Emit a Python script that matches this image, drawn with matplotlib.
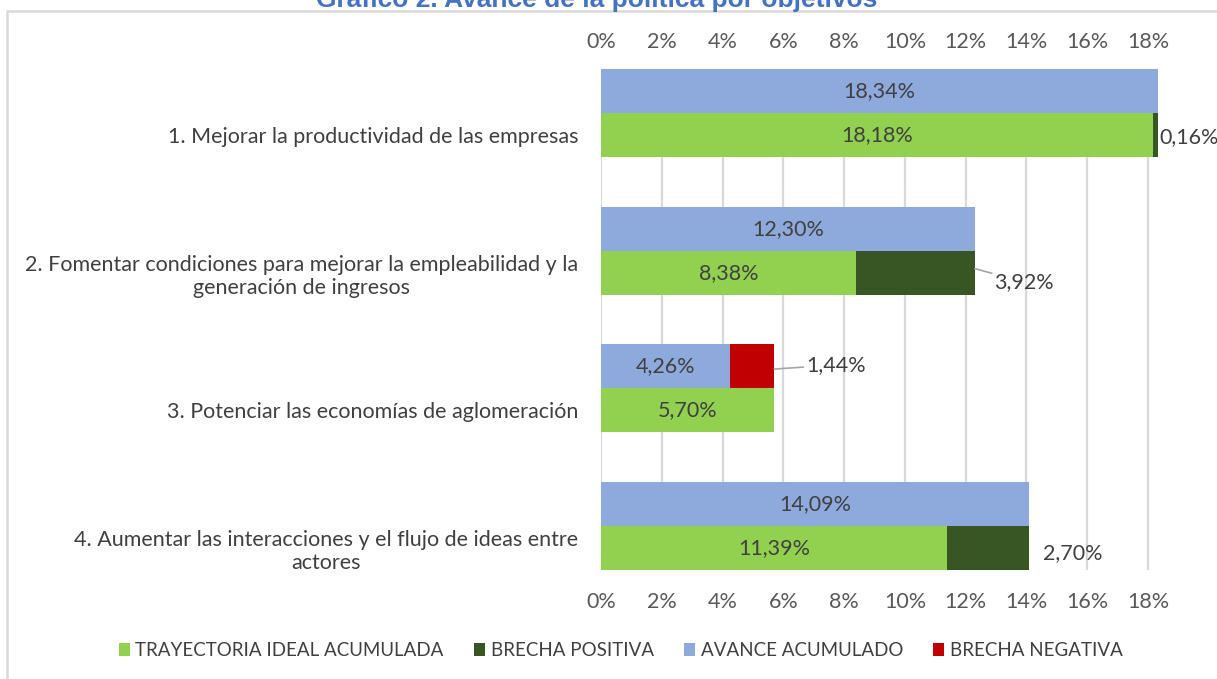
import matplotlib.pyplot as plt
from matplotlib.patches import Rectangle

plt.rcParams['font.family'] = ['Lato', 'DejaVu Sans']

categories = [
    "1. Mejorar la productividad de las empresas",
    "2. Fomentar condiciones para mejorar la empleabilidad y la\ngeneración de ingresos",
    "3. Potenciar las economías de aglomeración",
    "4. Aumentar las interacciones y el flujo de ideas entre\nactores",
]
trayectoria = [18.18, 8.38, 5.70, 11.39]
brecha_pos = [0.16, 3.92, 0.0, 2.70]
avance = [18.34, 12.30, 4.26, 14.09]
brecha_neg = [0.0, 0.0, 1.44, 0.0]
xticks = [0, 2, 4, 6, 8, 10, 12, 14, 16, 18]

c_green = "#92D050"
c_dark = "#375623"
c_blue = "#8EA9DB"
c_red = "#C00000"
c_text = "#404040"
c_tick = "#595959"


def fmt(v):
    return f"{v:.2f}%".replace(".", ",")


fig = plt.figure(figsize=(12.17, 6.79), dpi=100)
ax = fig.add_axes([0.4938, 0.1605, 0.4595, 0.7379])

h = 0.32
ypos = list(range(len(categories)))
y_blue = [y - h / 2 for y in ypos]
y_green = [y + h / 2 for y in ypos]

ax.barh(y_blue, avance, height=h, color=c_blue, label="AVANCE ACUMULADO", zorder=3)
ax.barh(y_blue, brecha_neg, left=avance, height=h, color=c_red, label="BRECHA NEGATIVA", zorder=3)
ax.barh(y_green, trayectoria, height=h, color=c_green, label="TRAYECTORIA IDEAL ACUMULADA", zorder=3)
ax.barh(y_green, brecha_pos, left=trayectoria, height=h, color=c_dark, label="BRECHA POSITIVA", zorder=3)

ax.set_xlim(0, 18.4)
ax.set_ylim(3 + h, -h)
xlabels = [f"{t}%" for t in xticks]
ax.set_xticks(xticks)
ax.set_xticklabels(xlabels)
ax.set_yticks(y_green)
ax.set_yticklabels(categories, multialignment="center", linespacing=1.2)
ax.tick_params(axis="x", bottom=False, labelsize=15.5, colors=c_tick, pad=12)
ax.tick_params(axis="y", left=False, labelsize=15.5, colors=c_text, pad=13)

top = ax.secondary_xaxis("top")
top.set_xticks(xticks)
top.set_xticklabels(xlabels)
top.tick_params(axis="x", top=False, labelsize=15.5, colors=c_tick, pad=9)
top.spines["top"].set_visible(False)

for s in ax.spines.values():
    s.set_visible(False)
ax.grid(axis="x", color="#d9d9d9", lw=1.6, zorder=0)

# labels inside bars
for i in ypos:
    ax.text(avance[i] / 2, y_blue[i], fmt(avance[i]), ha="center", va="center",
            fontsize=15.5, color=c_text, zorder=4)
    ax.text(trayectoria[i] / 2, y_green[i], fmt(trayectoria[i]), ha="center", va="center",
            fontsize=15.5, color=c_text, zorder=4)

# gap labels outside
ax.text(18.39, 0.175, fmt(brecha_pos[0]), ha="left", va="center", fontsize=15.5, color=c_text)
ax.annotate(fmt(brecha_pos[1]), xy=(trayectoria[1] + brecha_pos[1], 1.13), xytext=(12.95, 1.23),
            ha="left", va="center", fontsize=15.5, color=c_text,
            arrowprops=dict(arrowstyle="-", color="#a6a6a6", lw=1.2, shrinkA=0, shrinkB=0))
ax.text(14.55, 3.2, fmt(brecha_pos[3]), ha="left", va="center", fontsize=15.5, color=c_text)
ax.annotate(fmt(brecha_neg[2]), xy=(avance[2] + brecha_neg[2], 1.86), xytext=(6.75, 1.83),
            ha="left", va="center", fontsize=15.5, color=c_text,
            arrowprops=dict(arrowstyle="-", color="#a6a6a6", lw=1.2, shrinkA=0, shrinkB=0))

handles, labels = ax.get_legend_handles_labels()
order = [2, 3, 0, 1]
fig.legend([handles[k] for k in order], [labels[k] for k in order], loc="center",
           bbox_to_anchor=(0.51, 0.042), ncol=4, frameon=False, fontsize=13.5,
           handlelength=0.6, handleheight=0.7, handletextpad=0.3, columnspacing=1.6,
           labelcolor=c_text)

# chart border and clipped title
fig.patches.append(Rectangle((7 / 1217, -0.1), 1.2, 1 - 11 / 679 + 0.1,
                             transform=fig.transFigure, fill=False,
                             edgecolor="#d9d9d9", lw=1.8))
fig.text(0.49, 1 - 7 / 679, "Gráfico 2. Avance de la política por objetivos",
         ha="center", va="baseline", fontsize=19, fontweight="bold", color="#4472C4",
         family=["Liberation Sans", "DejaVu Sans"])

fig.savefig("out.png", dpi=100)
